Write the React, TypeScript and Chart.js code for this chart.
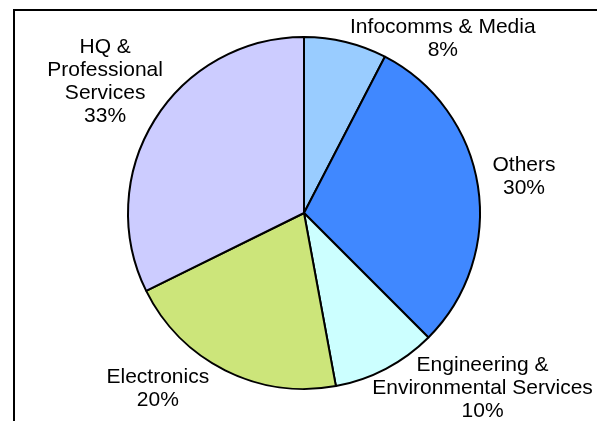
import React, { useEffect, useRef } from "react";
import { Chart, registerables } from "chart.js";

Chart.register(...registerables);

const categories = ["Infocomms & Media", "Others", "Engineering &\nEnvironmental Services", "Electronics", "HQ &\nProfessional\nServices"];
const shares = [7.6, 29.9, 9.6, 20.6, 32.3];
const pctLabels = ["8%", "30%", "10%", "20%", "33%"];
const colors = ["#99CCFF", "#4088FF", "#CCFFFF", "#CCE57A", "#CCCCFF"];

// label placement: angle (deg clockwise from top) and distance in outer radii
const labelAngles = [38.5, 80.6, 134.4, 219.7, 303.5];
const labelDist = [1.267, 1.267, 1.42, 1.3, 1.355];

const FONT = '21px "Liberation Sans", Arial, sans-serif';

const framePlugin = {
  id: "frame",
  beforeDraw(chart: any) {
    const ctx = chart.ctx;
    ctx.save();
    ctx.fillStyle = "#ffffff";
    ctx.fillRect(0, 0, chart.width, chart.height);
    ctx.strokeStyle = "#000000";
    ctx.lineWidth = 2;
    ctx.beginPath();
    ctx.moveTo(chart.width + 2, 10);
    ctx.lineTo(14, 10);
    ctx.lineTo(14, chart.height + 2);
    ctx.stroke();
    ctx.restore();
  },
};

const labelPlugin = {
  id: "pieLabels",
  afterDraw(chart: any) {
    const meta = chart.getDatasetMeta(0);
    const arc = meta.data[0];
    if (!arc) return;
    const cx = arc.x;
    const cy = arc.y;
    const R = arc.outerRadius;
    const ctx = chart.ctx;
    ctx.save();
    ctx.font = FONT;
    ctx.fillStyle = "#000000";
    ctx.textAlign = "center";
    ctx.textBaseline = "middle";
    const lh = 23;
    categories.forEach((name, i) => {
      const lines = name.split("\n").concat([pctLabels[i]]);
      const a = (labelAngles[i] * Math.PI) / 180;
      const x = cx + Math.sin(a) * labelDist[i] * R;
      const y = cy - Math.cos(a) * labelDist[i] * R;
      const top = y - ((lines.length - 1) * lh) / 2;
      lines.forEach((ln, j) => ctx.fillText(ln, x, top + j * lh));
    });
    ctx.restore();
  },
};

export default function App() {
  const ref = useRef<HTMLCanvasElement | null>(null);
  useEffect(() => {
    if (!ref.current) return;
    const chart = new Chart(ref.current, {
      type: "pie",
      data: {
        labels: categories,
        datasets: [
          {
            data: shares,
            backgroundColor: colors,
            borderColor: "#000000",
            borderWidth: 2,
          },
        ],
      },
      options: {
        responsive: false,
        animation: false,
        devicePixelRatio: 1,
        layout: { padding: { left: 127, right: 116, top: 36, bottom: 31 } },
        plugins: {
          legend: { display: false },
          tooltip: { enabled: false },
        },
      },
      plugins: [framePlugin, labelPlugin],
    } as any);
    return () => chart.destroy();
  }, []);
  return (
    <div style={{ position: "absolute", left: 0, top: 0, width: 597, height: 421, background: "#fff" }}>
      <canvas ref={ref} width={597} height={421} style={{ display: "block" }} />
    </div>
  );
}
